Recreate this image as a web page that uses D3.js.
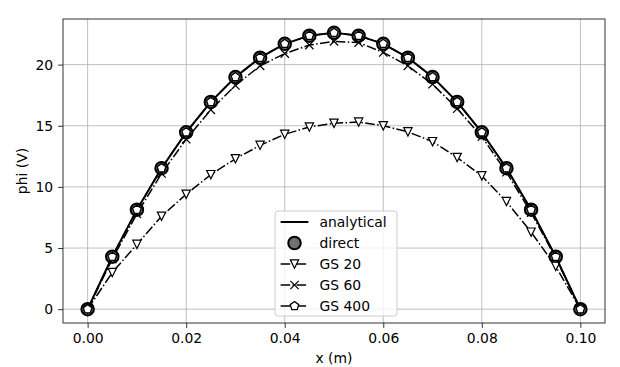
<!DOCTYPE html>
<html>
<head>
<meta charset="utf-8">
<script src="https://cdn.jsdelivr.net/npm/d3@7"></script>
<style>
  body { margin: 0; background: #fff; }
  text { font-family: "DejaVu Sans", sans-serif; }
</style>
</head>
<body>
<div id="chart"></div>
<script>
// Data
const xs = [0, 0.005, 0.01, 0.015, 0.02, 0.025, 0.03, 0.035, 0.04, 0.045, 0.05,
            0.055, 0.06, 0.065, 0.07, 0.075, 0.08, 0.085, 0.09, 0.095, 0.1];
const analytical = [0, 4.29, 8.14, 11.53, 14.46, 16.95, 18.98, 20.57, 21.70, 22.37, 22.60,
                    22.37, 21.70, 20.57, 18.98, 16.95, 14.46, 11.53, 8.14, 4.29, 0];
const direct = [0, 4.29, 8.14, 11.53, 14.46, 16.95, 18.98, 20.57, 21.70, 22.37, 22.60,
                22.37, 21.70, 20.57, 18.98, 16.95, 14.46, 11.53, 8.14, 4.29, 0];
const gs20 = [0, 3.0, 5.3, 7.6, 9.4, 11.0, 12.3, 13.4, 14.3, 14.9, 15.2,
              15.3, 15.0, 14.5, 13.7, 12.4, 10.9, 8.8, 6.3, 3.5, 0];
const gs60 = [0, 4.1, 7.8, 11.1, 13.9, 16.3, 18.3, 19.9, 20.9, 21.6, 21.9,
              21.8, 21.0, 19.9, 18.4, 16.4, 14.1, 11.2, 7.9, 4.2, 0];
const gs400 = [0, 4.29, 8.14, 11.53, 14.46, 16.95, 18.98, 20.57, 21.70, 22.37, 22.60,
               22.37, 21.70, 20.57, 18.98, 16.95, 14.46, 11.53, 8.14, 4.29, 0];
const xTicks = [0, 0.02, 0.04, 0.06, 0.08, 0.10];
const yTicks = [0, 5, 10, 15, 20];

// Chart dimensions
const W = 620, H = 367;
const margin = {top: 19, right: 15, bottom: 44, left: 63};
const width = W - margin.left - margin.right;
const height = H - margin.top - margin.bottom;
const fs = 13.9;

const svg = d3.select("#chart")
    .append("svg")
    .attr("width", W)
    .attr("height", H);

const g = svg.append("g")
    .attr("transform", "translate(" + margin.left + "," + margin.top + ")");

const x = d3.scaleLinear().domain([-0.005, 0.105]).range([0, width]);
const y = d3.scaleLinear().domain([-1.13, 23.73]).range([height, 0]);

// Grid
g.append("g").selectAll("line").data(xTicks).enter().append("line")
    .attr("x1", d => x(d)).attr("x2", d => x(d))
    .attr("y1", 0).attr("y2", height)
    .style("stroke", "#b0b0b0").style("stroke-width", 0.8);
g.append("g").selectAll("line").data(yTicks).enter().append("line")
    .attr("y1", d => y(d)).attr("y2", d => y(d))
    .attr("x1", 0).attr("x2", width)
    .style("stroke", "#b0b0b0").style("stroke-width", 0.8);

// Axes
const xAxis = d3.axisBottom(x).tickValues(xTicks).tickFormat(d3.format(".2f")).tickSize(4.9).tickPadding(4.9);
const yAxis = d3.axisLeft(y).tickValues(yTicks).tickFormat(d3.format("d")).tickSize(4.9).tickPadding(4.9);

g.append("g")
    .attr("transform", "translate(0," + height + ")")
    .call(xAxis)
    .call(a => a.select(".domain").remove())
    .call(a => a.selectAll("text").style("font-size", fs + "px").style("font-family", "DejaVu Sans").attr("fill", "#000"))
    .call(a => a.selectAll("line").style("stroke-width", 0.8).attr("stroke", "#000"));

g.append("g")
    .call(yAxis)
    .call(a => a.select(".domain").remove())
    .call(a => a.selectAll("text").style("font-size", fs + "px").style("font-family", "DejaVu Sans").attr("fill", "#000"))
    .call(a => a.selectAll("line").style("stroke-width", 0.8).attr("stroke", "#000"));

// Marker paths (matplotlib-like)
const pt = 100 / 72;
function triDown(r) { return `M0,${r}L${-r},${-r}L${r},${-r}Z`; }
function cross(r) { return `M${-r},${-r}L${r},${r}M${-r},${r}L${r},${-r}`; }
function pentagon(r) {
  let p = "";
  for (let i = 0; i < 5; i++) {
    const a = -Math.PI / 2 + i * 2 * Math.PI / 5;
    p += (i ? "L" : "M") + (r * Math.cos(a)).toFixed(2) + "," + (r * Math.sin(a)).toFixed(2);
  }
  return p + "Z";
}

const series = [
  {name: "analytical", vals: analytical, lw: 2, dash: null, marker: null},
  {name: "direct", vals: direct, lw: 0, dash: null, marker: "o"},
  {name: "GS 20", vals: gs20, lw: 1.5, dash: "9.6,2.4,1.5,2.4", marker: "v"},
  {name: "GS 60", vals: gs60, lw: 1.5, dash: "9.6,2.4,1.5,2.4", marker: "x"},
  {name: "GS 400", vals: gs400, lw: 1.5, dash: "9.6,2.4,1.5,2.4", marker: "p"}
];

function drawMarker(sel, m) {
  if (m === "o") {
    sel.append("circle").attr("r", 9 * pt / 2)
      .style("fill", "#707070").style("stroke", "#000").style("stroke-width", 2);
  } else if (m === "v") {
    sel.append("path").attr("d", triDown(6 * pt / 2))
      .style("fill", "#fff").style("stroke", "#000").style("stroke-width", 1.2);
  } else if (m === "x") {
    sel.append("path").attr("d", cross(6 * pt / 2))
      .style("fill", "none").style("stroke", "#000").style("stroke-width", 1.2);
  } else if (m === "p") {
    sel.append("path").attr("d", pentagon(6.5 * pt / 2))
      .style("fill", "#fff").style("stroke", "#000").style("stroke-width", 1.3);
  }
}

const line = d3.line().x(d => x(d[0])).y(d => y(d[1]));
const plot = g.append("g");

series.forEach(s => {
  const pts = xs.map((v, i) => [v, s.vals[i]]);
  if (s.lw > 0) {
    plot.append("path")
      .datum(pts)
      .attr("d", line)
      .style("fill", "none")
      .style("stroke", "#000")
      .style("stroke-width", s.lw)
      .style("stroke-dasharray", s.dash);
  }
  if (s.marker) {
    pts.forEach(p => {
      const mg = plot.append("g").attr("transform", "translate(" + x(p[0]) + "," + y(p[1]) + ")");
      drawMarker(mg, s.marker);
    });
  }
});

// Frame
g.append("rect")
    .attr("width", width).attr("height", height)
    .style("fill", "none").style("stroke", "#000").style("stroke-width", 0.8);

// Legend
const rowH = 21;
const lgW = 122, lgH = 105;
const lgX = width / 2 - lgW / 2 + 2;
const lgY = height - 7 - lgH;
const legend = g.append("g").attr("transform", "translate(" + lgX + "," + lgY + ")");
legend.append("rect")
    .attr("width", lgW).attr("height", lgH).attr("rx", 3)
    .style("fill", "#fff").style("fill-opacity", 0.8)
    .style("stroke", "#ccc").style("stroke-width", 1);

series.forEach((s, i) => {
  const cy = 11 + i * rowH;
  const row = legend.append("g").attr("transform", "translate(0," + cy + ")");
  if (s.lw > 0) {
    row.append("line").attr("x1", 5.6).attr("x2", 33.4).attr("y1", 0).attr("y2", 0)
      .style("stroke", "#000").style("stroke-width", s.lw)
      .style("stroke-dasharray", s.dash);
  }
  if (s.marker) {
    const mg = row.append("g").attr("transform", "translate(19.5,0)");
    drawMarker(mg, s.marker);
  }
  row.append("text")
    .attr("x", 44.5).attr("y", 0).attr("dy", "0.35em")
    .style("font-size", fs + "px")
    .text(s.name);
});

// Axis labels
svg.append("text")
    .attr("x", margin.left + width / 2).attr("y", 358).attr("dy", "0.35em")
    .attr("text-anchor", "middle")
    .style("font-size", fs + "px")
    .text("x (m)");

svg.append("text")
    .attr("transform", "translate(22," + (margin.top + height / 2) + ") rotate(-90)")
    .attr("dy", "0.35em")
    .attr("text-anchor", "middle")
    .style("font-size", fs + "px")
    .text("phi (V)");
</script>
</body>
</html>
